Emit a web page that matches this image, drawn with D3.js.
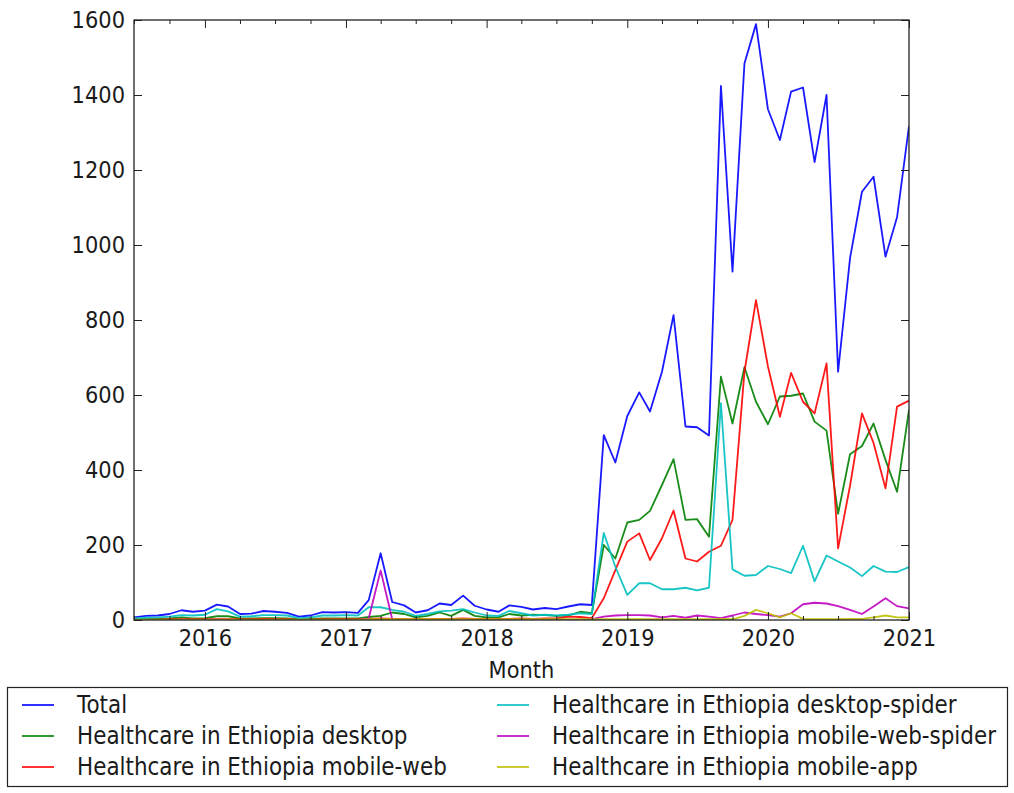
<!DOCTYPE html>
<html>
<head>
<meta charset="utf-8">
<script src="https://cdn.jsdelivr.net/npm/d3@7/dist/d3.min.js"></script>
<style>
  html, body { margin: 0; padding: 0; background: #fff; }
  svg { display: block; }
  text { font-family: "DejaVu Sans", sans-serif; fill: #1a1a1a; }
</style>
</head>
<body>
<svg id="chart" width="1014" height="793"></svg>
<script>
// ---- Data ----
const startMonth = new Date(2015, 6, 1);
const endMonth = new Date(2021, 0, 1);
const months = d3.timeMonth.range(startMonth, new Date(2021, 1, 1)); // Jul 2015 .. Jan 2021

const seriesNames = [
  "Total",
  "Healthcare in Ethiopia desktop",
  "Healthcare in Ethiopia mobile-web",
  "Healthcare in Ethiopia desktop-spider",
  "Healthcare in Ethiopia mobile-web-spider",
  "Healthcare in Ethiopia mobile-app"
];
const seriesColors = ["#0000ff", "#008000", "#ff0000", "#00bfbf", "#bf00bf", "#bfbf00"];

const total = [7,11,12,16,26,22,25,41,36,16, 17,24,22,19,9,12,21,20,21,19,
  53,178,48,39,20,26,44,40,65,38, 28,22,39,35,28,32,29,36,42,40,
  493,420,544,607,556,662,813,516,514,492, 1424,929,1484,1589,1362,1280,1409,1420,1221,1400,
  662,965,1142,1182,969,1074,1317];
const desktop = [2,3,3,4,7,4,5,10,10,4, 4,5,5,4,2,3,4,4,4,4,
  8,11,20,16,7,11,20,11,27,11, 7,7,16,12,14,13,11,12,22,18,
  200,164,260,267,291,360,429,267,269,222, 649,524,674,582,522,596,598,604,529,505,
  283,442,464,524,427,342,560];
const mobileWeb = [1,1,1,2,2,2,2,2,2,2, 2,3,2,2,1,1,2,2,2,2,
  3,4,3,2,2,2,3,3,4,3, 3,3,3,4,3,4,4,9,8,5,
  58,133,209,231,160,218,292,164,156,182, 198,267,662,853,676,542,659,582,551,684,
  191,358,551,472,351,569,585];
const desktopSpider = [4,6,7,9,13,12,14,29,23,9, 10,13,13,12,5,7,12,12,13,12,
  34,34,27,22,11,16,23,25,29,20, 12,11,24,18,12,14,12,14,18,16,
  232,142,67,98,98,82,82,86,79,86, 578,135,118,120,144,136,125,198,103,172,
  156,140,117,144,129,128,141];
const mobileWebSpider = [0,0,0,0,1,0,0,1,0,0, 0,0,0,0,0,0,0,0,0,0,
  4,132,2,1,1,1,1,1,1,1, 1,1,1,1,1,1,1,1,1,2,
  9,12,13,13,12,7,11,6,12,9, 5,12,20,16,13,9,18,42,46,44,
  37,27,16,36,58,37,31];
const mobileApp = [1,1,1,1,1,1,1,1,1,1, 1,1,1,1,1,1,1,1,1,1,
  2,2,2,2,2,2,2,2,2,2, 2,2,2,2,2,2,2,2,2,2,
  2,2,2,2,2,2,2,2,2,2, 3,2,11,27,18,7,18,3,2,2,
  2,3,3,7,12,7,7];

const seriesValues = [total, desktop, mobileWeb, desktopSpider, mobileWebSpider, mobileApp];
const yTicks = [0,200,400,600,800,1000,1200,1400,1600];
const xAxisLabel = "Month";

// ---- Layout ----
const svg = d3.select("#chart");
const L = 134, R = 909, T = 20, B = 620;
const SY = 1.12; // vertical text stretch seen in reference
const FS = 21;
const LFS = 21.5;

const x = d3.scaleTime().domain([startMonth, endMonth]).range([L, R]);
const y = d3.scaleLinear().domain([0, 1600]).range([B, T]);

// clip
svg.append("defs").append("clipPath").attr("id", "plotclip")
  .append("rect").attr("x", L).attr("y", T).attr("width", R - L).attr("height", B - T);

// lines
const line = d3.line().x((d, i) => x(months[i])).y(d => y(d));
const linesG = svg.append("g").attr("clip-path", "url(#plotclip)");
seriesValues.forEach((vals, k) => {
  linesG.append("path")
    .datum(vals)
    .attr("d", line)
    .attr("fill", "none")
    .attr("stroke", seriesColors[k])
    .attr("stroke-width", 1.8)
    .attr("stroke-opacity", 0.9)
    .attr("stroke-linejoin", "round");
});

// axes
const quarterTicks = d3.timeMonth.every(3).range(startMonth, new Date(2021, 0, 2));
const yearTicks = quarterTicks.filter(d => d.getMonth() === 0);
const minorTicks = quarterTicks.filter(d => d.getMonth() !== 0);

function styleAxis(g) {
  g.select(".domain").remove();
  g.selectAll("line").attr("stroke", "#222").attr("stroke-width", 1);
  g.selectAll("text").attr("font-size", FS).attr("fill", "#1a1a1a")
    .style("font-family", '"DejaVu Sans", sans-serif');
}

// bottom major (year) ticks with labels
svg.append("g").attr("transform", `translate(0,${B})`)
  .call(d3.axisBottom(x).tickValues(yearTicks).tickSize(-8).tickPadding(8).tickFormat(d3.timeFormat("%Y")))
  .call(styleAxis)
  .call(g => g.selectAll("text").attr("transform", `scale(1,${SY})`));
// bottom minor ticks
svg.append("g").attr("transform", `translate(0,${B})`)
  .call(d3.axisBottom(x).tickValues(minorTicks).tickSize(-4).tickFormat(""))
  .call(styleAxis);
// top ticks
svg.append("g").attr("transform", `translate(0,${T})`)
  .call(d3.axisTop(x).tickValues(yearTicks).tickSize(-8).tickFormat(""))
  .call(styleAxis);
svg.append("g").attr("transform", `translate(0,${T})`)
  .call(d3.axisTop(x).tickValues(minorTicks).tickSize(-4).tickFormat(""))
  .call(styleAxis);
// left
svg.append("g").attr("transform", `translate(${L},0)`)
  .call(d3.axisLeft(y).tickValues(yTicks).tickSize(-8).tickPadding(9).tickFormat(d3.format("d")))
  .call(styleAxis)
  .call(g => g.selectAll("text").attr("transform", `scale(1,${SY})`));
// right
svg.append("g").attr("transform", `translate(${R},0)`)
  .call(d3.axisRight(y).tickValues(yTicks).tickSize(-8).tickFormat(""))
  .call(styleAxis);

// frame
svg.append("rect").attr("x", L).attr("y", T).attr("width", R - L).attr("height", B - T)
  .attr("fill", "none").attr("stroke", "#222").attr("stroke-width", 1.3);

// x label
svg.append("text")
  .attr("transform", `translate(${(L + R) / 2},670) scale(1,${SY})`)
  .attr("text-anchor", "middle").attr("dominant-baseline", "central")
  .attr("font-size", FS).text(xAxisLabel);

// legend
const lg = svg.append("g");
lg.append("rect").attr("x", 7.5).attr("y", 687.5).attr("width", 1000).attr("height", 99)
  .attr("fill", "#fff").attr("stroke", "#222").attr("stroke-width", 1.2);
const rowY = [705, 736, 767];
const colX = [22, 497];
seriesNames.forEach((name, k) => {
  const col = Math.floor(k / 3), row = k % 3;
  const lx = colX[col], ly = rowY[row];
  lg.append("line").attr("x1", lx).attr("x2", lx + 32).attr("y1", ly).attr("y2", ly)
    .attr("stroke", seriesColors[k]).attr("stroke-width", 1.8).attr("stroke-opacity", 0.9);
  lg.append("text")
    .attr("transform", `translate(${lx + 55},${ly}) scale(1,${SY})`)
    .attr("dominant-baseline", "central")
    .attr("font-size", LFS).text(name);
});
</script>
</body>
</html>
